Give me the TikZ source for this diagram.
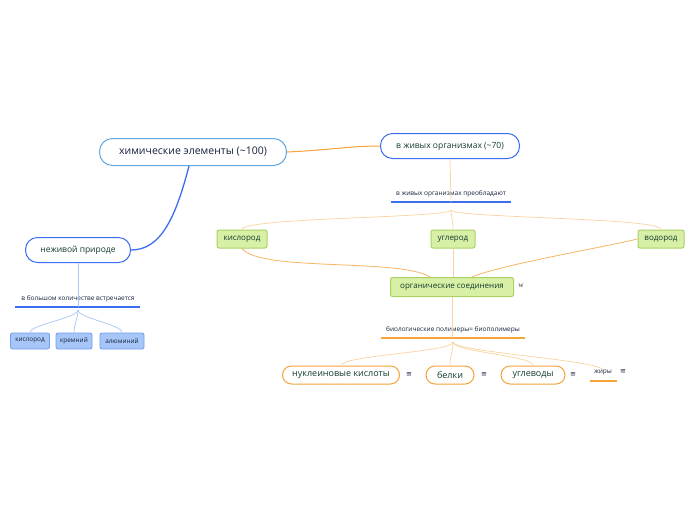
\documentclass[tikz,border=0pt]{standalone}
\usepackage{fontspec}
\setmainfont{Open Sans}
\newfontfamily\symfont{DejaVu Sans}
\newfontfamily\serfont{Liberation Serif}
\usetikzlibrary{positioning,calc}

\definecolor{navy}{HTML}{15213C}
\definecolor{darkgreen}{HTML}{123B2E}
\definecolor{lineblue}{HTML}{3B6EF0}
\definecolor{paleblue}{HTML}{A9C4F5}
\definecolor{skyblue}{HTML}{62A9E2}
\definecolor{lineorange}{HTML}{F5A33A}
\definecolor{paleorange}{HTML}{FBD3A0}
\definecolor{boxgreen}{HTML}{D8EFA6}
\definecolor{rimgreen}{HTML}{A9D166}
\definecolor{boxblue}{HTML}{A6C6F7}
\definecolor{rimblue}{HTML}{6F9EF0}

\begin{document}
\begin{tikzpicture}[x=1pt, y=-1pt,
            every node/.style={inner sep=0pt, align=center},
            rootbox/.style={draw=skyblue, line width=1pt, fill=white, rounded corners=13pt,
                            text=navy, font=\fontsize{10.5}{12}\selectfont},
            topicbox/.style={draw=lineblue, line width=1pt, fill=white, rounded corners=12pt,
                            text=darkgreen, font=\fontsize{8.5}{10}\selectfont},
            greenbox/.style={draw=rimgreen, line width=1pt, fill=boxgreen, rounded corners=2pt,
                            minimum height=18, text=darkgreen, font=\fontsize{8}{10}\selectfont},
            bluebox/.style={draw=rimblue, line width=0.8pt, fill=boxblue, rounded corners=2pt,
                            minimum height=16, text=navy, font=\fontsize{6.4}{7}\selectfont},
            orangebox/.style={draw=lineorange, line width=1pt, fill=white, rounded corners=9pt,
                            minimum height=18, text=darkgreen, font=\fontsize{9}{11}\selectfont},
            tinylabel/.style={text=navy, font=\fontsize{6.5}{7}\selectfont},
            notemark/.style={font=\symfont\fontsize{7}{8}\selectfont, text=navy}]

        % background and frame of the picture
        \useasboundingbox (0,0) rectangle (696,520);
        \fill[white] (0,0) rectangle (696,520);

        % main nodes
        \node[rootbox, minimum width=187, minimum height=27] (chem) at (193,152)
            {химические элементы (\textasciitilde100)};
        \node[topicbox, minimum width=139, minimum height=25] (live) at (450,146)
            {в живых организмах (\textasciitilde70)};
        \node[topicbox, minimum width=105, minimum height=25] (dead) at (78,250)
            {неживой природе};

        % left branch
        \node[tinylabel, minimum width=125] (lblDead) at (78,299) {в большом количестве встречается};
        \coordinate (hubDead) at (78,310);
        \node[bluebox, minimum width=39] (oxyB) at (30,341) {кислород};
        \node[bluebox, minimum width=36] (silB) at (74,341) {кремний};
        \node[bluebox, minimum width=44] (aluB) at (122,341) {алюминий};

        % right branch
        \node[tinylabel, minimum width=120] (lblLive) at (451,194) {в живых организмах преобладают};
        \coordinate (hubLive) at (451,210);
        \node[greenbox, minimum width=50] (oxyG) at (242,239) {кислород};
        \node[greenbox, minimum width=44] (carG) at (453,239) {углерод};
        \node[greenbox, minimum width=46] (hydG) at (661,239) {водород};
        \node[greenbox, minimum width=123, minimum height=19] (org) at (452,287) {органические соединения};
        \node[font=\serfont\fontsize{7.5}{8}\selectfont, text=black!75] (orgNote) at (521,286) {w};

        \node[tinylabel, minimum width=144] (lblPoly) at (453,330) {биологические полимеры= биополимеры};
        \coordinate (hubPoly) at (453,342);
        \node[orangebox, minimum width=117] (nucl) at (341,375) {нуклеиновые кислоты};
        \node[orangebox, minimum width=48] (prot) at (450,375) {белки};
        \node[orangebox, minimum width=64] (carb) at (533,375) {углеводы};
        \node[tinylabel, minimum width=27] (fat) at (603,373) {жиры};
        \node[notemark] (noteNucl) at (409,375) {≡};
        \node[notemark] (noteProt) at (484,375) {≡};
        \node[notemark] (noteCarb) at (573,375) {≡};
        \node[notemark] (noteFat) at (623,372) {≡};

        % underlines of the plain labels
        \draw[lineblue, line width=1.4pt] (15,307) -- (140,307);
        \draw[lineblue, line width=1.4pt] (391,202) -- (511,202);
        \draw[lineorange, line width=1.4pt] (381,338) -- (525,338);
        \draw[lineorange, line width=1.4pt] (590,381) -- (617,381);

        % connectors
        \draw[lineorange, line width=1pt] (chem.east) .. controls (330,150) and (350,146) .. (live.west);
        \draw[lineblue, line width=1.3pt] ($(chem.south)+(-4,0)$) .. controls (175,220) and (160,250) .. (dead.east);
        \draw[paleblue, line width=0.8pt] (dead.south) -- (78,307);
        \foreach \leaf in {oxyB,silB,aluB}
            \draw[paleblue, line width=0.7pt] (hubDead) .. controls (78,318) and ($(\leaf.north)+(0,-8)$) .. (\leaf.north);

        \draw[paleorange, line width=0.8pt] (live.south) -- (451,202);
        \foreach \leaf in {oxyG,carG,hydG}
            \draw[paleorange, line width=0.7pt] (hubLive) .. controls (451,218) and ($(\leaf.north)+(0,-12)$) .. (\leaf.north);
        \draw[lineorange!80, line width=0.8pt] (oxyG.south) .. controls (260,272) and (400,258) .. ($(org.north)+(-22,0)$);
        \draw[lineorange!80, line width=0.8pt] (hydG.west) .. controls (600,248) and (500,265) .. ($(org.north)+(20,0)$);
        \draw[paleorange, line width=0.8pt] (carG.south) -- (carG.south |- org.north);
        \draw[paleorange, line width=0.8pt] (org.south) -- (452,338);
        \foreach \leaf in {nucl,prot,carb,fat}
            \draw[paleorange, line width=0.7pt] (hubPoly) .. controls (453,352) and ($(\leaf.north)+(0,-10)$) .. (\leaf.north);
\end{tikzpicture}
\end{document}
